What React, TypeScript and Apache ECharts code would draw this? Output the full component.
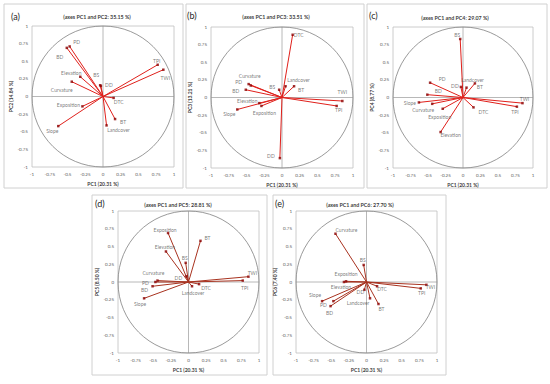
import React, { useEffect, useRef } from "react";
import * as echarts from "echarts";

const variables = ["PD", "BD", "Elevation", "BS", "DD", "Curvature", "Exposition", "Slope", "DTC", "BT", "Landcover", "TPI", "TWI"];
const pc1 = [-0.47, -0.51, -0.32, -0.04, -0.03, -0.44, -0.29, -0.63, 0.15, 0.17, 0.05, 0.77, 0.85];
const pc2 = [0.71, 0.69, 0.28, 0.16, 0.15, 0.21, -0.14, -0.42, -0.02, -0.32, -0.41, 0.45, 0.38];
const pc3 = [0.19, 0.11, -0.08, 0.11, -0.86, 0.17, -0.12, -0.17, 0.89, 0.16, 0.16, -0.12, -0.05];
const pc4 = [0.21, 0.04, -0.49, 0.83, 0.15, -0.09, -0.16, -0.07, -0.14, 0.2, 0.14, -0.13, -0.08];
const pc5 = [0.0, -0.06, 0.43, 0.27, 0.08, 0.02, 0.69, -0.23, -0.03, 0.58, -0.06, 0.02, 0.075];
const pc6 = [-0.27, -0.34, 0.0, 0.24, -0.11, 0.68, 0.01, -0.27, -0.06, -0.31, -0.23, -0.09, -0.04];
const yComponents = [pc2, pc3, pc4, pc5, pc6];

const panelLetters = ["(a)", "(b)", "(c)", "(d)", "(e)"];
const panelTitles = [
  "(axes PC1 and PC2: 35.15 %)",
  "(axes PC1 and PC3: 33.51 %)",
  "(axes PC1 and PC4: 29.07 %)",
  "(axes PC1 and PC5: 28.81 %)",
  "(axes PC1 and PC6: 27.70 %)",
];
const yNames = ["PC2 (14.84 %)", "PC3 (13.21 %)", "PC4 (8.77 %)", "PC5 (8.50 %)", "PC6 (7.40 %)"];
const xName = "PC1 (20.31 %)";

// layout (pixels)
const grids = [
  { left: 32, top: 26, width: 142, height: 141 },
  { left: 211, top: 27, width: 142, height: 141 },
  { left: 393, top: 27, width: 140, height: 141 },
  { left: 118, top: 211, width: 141, height: 142 },
  { left: 296, top: 211, width: 141, height: 142 },
];
const boxes = [
  { x: 4, y: 4, w: 179, h: 184 },
  { x: 186, y: 4, w: 178, h: 184 },
  { x: 367, y: 4, w: 180, h: 184 },
  { x: 92, y: 195, w: 175, h: 180 },
  { x: 273, y: 195, w: 173, h: 180 },
];
const letterPos = [[11, 16], [187, 15], [369, 15], [95, 203], [275, 203]];
const titleCenter = [97, 276, 455, 178, 360];
const titleY = [17, 17, 18, 205, 205];
const lineColors = ["#e0201b", "#e0201b", "#e0201b", "#a8321f", "#a8321f"];

const labelOffsets: Record<string, [number, number]>[] = [
  { PD: [7, -4], BD: [-7, 9], Elevation: [-9, -4], BS: [-4, -10], DD: [8, -1], Curvature: [-10, 8], TPI: [-1, -4], TWI: [2, 8], DTC: [5, 4], Exposition: [-14, -1], Slope: [-6, 5], BT: [8, 3], Landcover: [12, 5] },
  { DTC: [6, 0], Curvature: [-1, -10], PD: [-10, -2], BD: [-10, 1], BS: [-7, -3], Landcover: [13, -6], BT: [7, 4], TWI: [0, -9], TPI: [2, 4], Elevation: [-12, -2], Exposition: [3, 7], Slope: [-8, 5], DD: [-9, -2] },
  { BS: [-3, -4], PD: [12, -4], BD: [11, -4], DD: [-6, -1], Landcover: [6, -8], BT: [5, 4], TWI: [2, -4], TPI: [-2, 5], DTC: [10, 5], Slope: [-9, 1], Curvature: [-9, 6], Exposition: [-3, 8], Elevation: [10, 3] },
  { Exposition: [-3, -3], BT: [7, -3], Elevation: [-1, -4], BS: [-1, -5], DD: [-8, 2], Curvature: [-4, -8], PD: [-10, 1], BD: [-8, 4], Slope: [-4, 6], TWI: [4, -4], TPI: [2, 7], DTC: [7, 4], Landcover: [1, 7] },
  { Curvature: [11, -4], BS: [-1, -5], Exposition: [0, -7], Elevation: [-3, 5], TWI: [4, 2], TPI: [1, 5], DTC: [5, 3], DD: [-4, 2], Slope: [-7, -6], PD: [-10, 4], BD: [-1, 7], Landcover: [-12, 5], BT: [3, 5] },
];

const FONT = "Lato, 'Open Sans', sans-serif";

export default function App() {
  const ref = useRef<HTMLDivElement>(null);
  useEffect(() => {
    if (!ref.current) return;
    const chart = echarts.init(ref.current, undefined, { renderer: "svg" });

    const xAxes: any[] = [];
    const yAxes: any[] = [];
    const series: any[] = [];
    const graphics: any[] = [];

    grids.forEach((g, i) => {
      const axisCommon = {
        gridIndex: i,
        type: "value",
        min: -1,
        max: 1,
        interval: 0.25,
        axisLine: { show: false },
        axisTick: { show: false },
        splitLine: { show: false },
        axisLabel: { fontSize: 4.5, color: "#595959", fontFamily: FONT },
        nameLocation: "middle",
        nameTextStyle: { fontSize: 5, fontWeight: "bold", color: "#404040", fontFamily: FONT },
      };
      xAxes.push({ ...axisCommon, name: xName, nameGap: 14, axisLabel: { ...axisCommon.axisLabel, margin: 5 } });
      yAxes.push({ ...axisCommon, name: yNames[i], nameGap: 17, axisLabel: { ...axisCommon.axisLabel, margin: 4 } });

      // unit circle + zero cross
      series.push({
        type: "custom",
        xAxisIndex: i,
        yAxisIndex: i,
        silent: true,
        data: [[0, 0]],
        renderItem: (_p: any, api: any) => {
          const c = api.coord([0, 0]);
          const r1 = api.coord([1, 0]);
          const t1 = api.coord([0, 1]);
          const l = api.coord([-1, 0]);
          const b = api.coord([0, -1]);
          return {
            type: "group",
            children: [
              { type: "line", shape: { x1: l[0], y1: c[1], x2: r1[0], y2: c[1] }, style: { stroke: "#a6a6a6", lineWidth: 0.8 } },
              { type: "line", shape: { x1: c[0], y1: t1[1], x2: c[0], y2: b[1] }, style: { stroke: "#a6a6a6", lineWidth: 0.8 } },
              { type: "ellipse", shape: { cx: c[0], cy: c[1], rx: r1[0] - c[0], ry: c[1] - t1[1] }, style: { fill: "none", stroke: "#808080", lineWidth: 0.8 } },
            ],
          };
        },
      });

      const ys = yComponents[i];
      const pts = variables.map((v, k) => [pc1[k], ys[k], v]);
      series.push({
        type: "custom",
        xAxisIndex: i,
        yAxisIndex: i,
        silent: true,
        data: pts,
        renderItem: (_p: any, api: any) => {
          const o = api.coord([0, 0]);
          const p = api.coord([api.value(0), api.value(1)]);
          return { type: "line", shape: { x1: o[0], y1: o[1], x2: p[0], y2: p[1] }, style: { stroke: lineColors[i], lineWidth: 1 } };
        },
      });
      series.push({
        type: "scatter",
        xAxisIndex: i,
        yAxisIndex: i,
        symbol: "rect",
        symbolSize: 2.5,
        itemStyle: { color: "#8b0000" },
        data: variables.map((v, k) => ({
          name: v,
          value: [pc1[k], ys[k]],
          label: { offset: labelOffsets[i][v] || [0, -5] },
        })),
        label: {
          show: true,
          position: "inside",
          formatter: "{b}",
          fontSize: 5,
          color: "#595959",
          textBorderWidth: 0,
          textBorderColor: "transparent",
          fontFamily: FONT,
        },
      });

      const bx = boxes[i];
      graphics.push({ type: "rect", shape: { x: bx.x, y: bx.y, width: bx.w, height: bx.h }, style: { fill: "none", stroke: "#d0d0d0", lineWidth: 1 }, z: -1 });
      graphics.push({ type: "text", x: letterPos[i][0], y: letterPos[i][1], style: { text: panelLetters[i], fontSize: 9, fill: "#262626", fontFamily: FONT, textVerticalAlign: "middle" } });
      graphics.push({ type: "text", x: titleCenter[i], y: titleY[i], style: { text: panelTitles[i], fontSize: 5.3, fontWeight: "bold", fill: "#404040", fontFamily: FONT, textAlign: "center", textVerticalAlign: "middle" } });
    });

    chart.setOption({
      animation: false,
      backgroundColor: "#ffffff",
      grid: grids.map((g) => ({ left: g.left, top: g.top, width: g.width, height: g.height, show: true, borderColor: "#bfbfbf", borderWidth: 0.8 })),
      xAxis: xAxes,
      yAxis: yAxes,
      series,
      graphic: graphics,
    });
    return () => chart.dispose();
  }, []);
  return <div ref={ref} style={{ position: "fixed", left: 0, top: 0, width: 550, height: 384 }} />;
}
